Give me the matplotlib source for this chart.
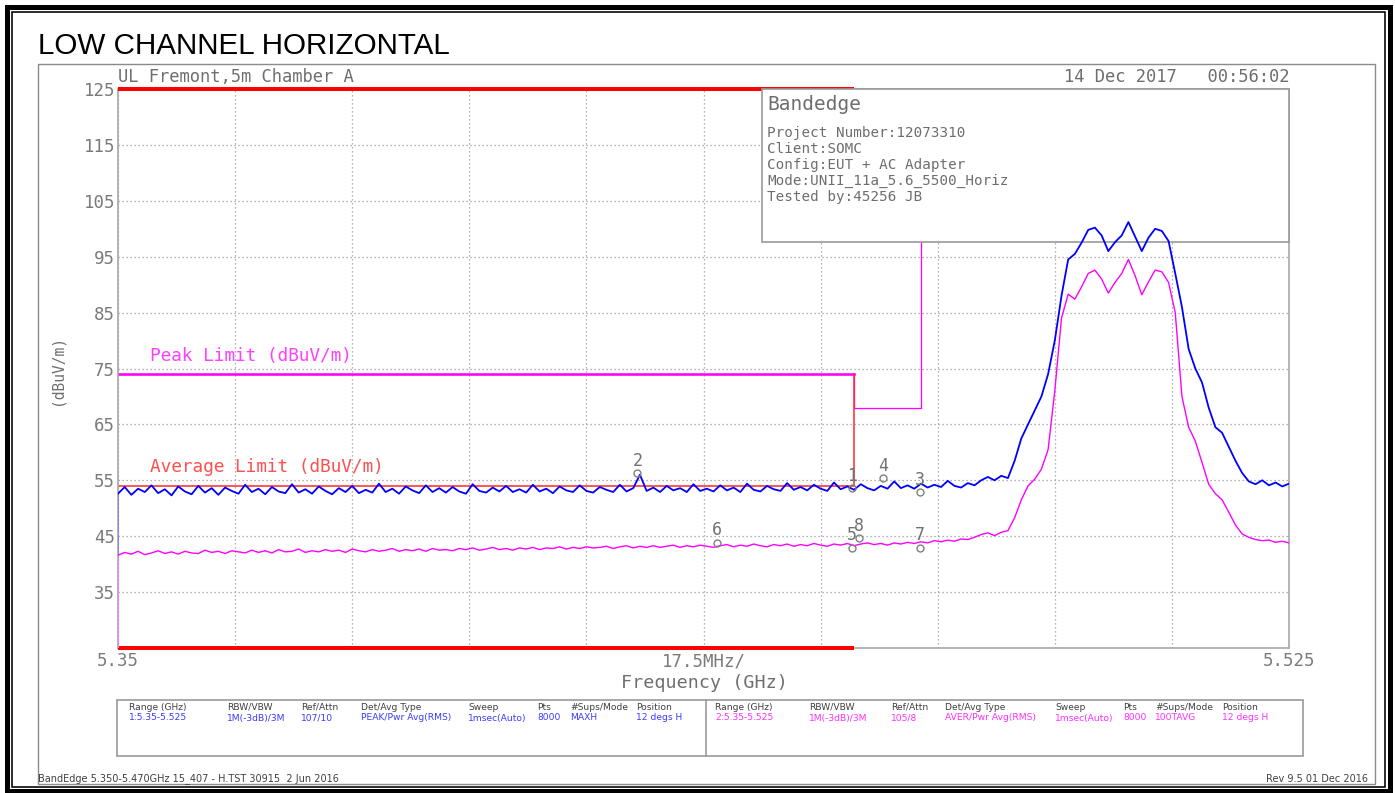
import numpy as np
import matplotlib
matplotlib.use("Agg")
import matplotlib.pyplot as plt
from matplotlib.patches import Rectangle
from matplotlib.lines import Line2D

# ---------------- data ----------------
f_start, f_stop = 5.35, 5.525          # GHz
freq = np.linspace(f_start, f_stop, 176)  # sweep points (1 MHz step)

peak_trace = [  # dBuV/m, MAXH (blue)
    52.6, 53.8, 52.4, 53.5, 52.9, 54.1, 52.7, 53.4, 52.3, 53.9,
    53.0, 52.5, 54.0, 52.8, 53.6, 52.4, 53.7, 53.1, 52.6, 54.2,
    52.9, 53.5, 52.5, 53.8, 53.0, 52.7, 54.3, 52.8, 53.4, 52.6,
    53.9, 53.1, 52.5, 53.6, 52.9, 54.0, 52.7, 53.3, 52.8, 54.4,
    52.9, 53.5, 52.6, 53.9, 53.2, 52.7, 54.1, 52.9, 53.6, 52.8,
    53.8, 53.0, 52.6, 54.3, 53.1, 52.8, 53.7, 53.0, 54.0, 52.9,
    53.4, 52.8, 54.2, 53.0, 53.5, 52.7, 53.9, 53.2, 52.9, 54.1,
    53.1, 52.8, 53.8, 53.3, 52.9, 54.2, 53.0, 53.6, 56.0, 53.1,
    53.7, 52.9, 54.0, 53.2, 53.6, 52.9, 54.3, 53.1, 53.5, 53.0,
    54.1, 53.2, 53.7, 52.9, 54.4, 53.3, 53.0, 54.0, 53.4, 53.1,
    54.5, 53.3, 53.8, 53.2, 54.2, 53.5, 53.1, 54.6, 53.4, 53.9,
    53.3, 54.3, 53.6, 53.2, 54.0, 53.5, 54.8, 53.6, 54.1, 53.5,
    54.4, 53.7, 54.2, 53.8, 54.9, 54.0, 53.7, 54.5, 54.1, 55.0,
    55.6, 55.0, 55.8, 55.4, 58.5, 62.5, 65.0, 67.5, 70.0, 74.0,
    80.0, 88.0, 94.5, 95.5, 97.5, 99.8, 100.2, 98.8, 96.0, 97.6,
    98.8, 101.2, 98.6, 96.0, 98.4, 100.0, 99.6, 97.8, 92.0, 86.0,
    78.5, 75.0, 72.5, 68.0, 64.5, 63.5, 61.0, 58.5, 56.3, 54.8,
    54.3, 55.0, 54.1, 54.6, 53.9, 54.4,
]

avg_trace = [  # dBuV/m, 100TAVG (magenta)
    41.6, 42.1, 41.8, 42.3, 41.7, 42.0, 42.4, 41.9, 42.2, 41.8,
    42.3, 42.0, 41.9, 42.5, 42.1, 42.3, 41.9, 42.4, 42.2, 42.0,
    42.5, 42.1, 42.4, 42.0, 42.6, 42.2, 42.3, 42.7, 42.1, 42.4,
    42.2, 42.6, 42.3, 42.5, 42.1, 42.7, 42.4, 42.2, 42.6, 42.3,
    42.5, 42.8, 42.3, 42.6, 42.4, 42.7, 42.3, 42.8, 42.5, 42.6,
    42.4, 42.8, 42.6, 42.9, 42.5, 42.7, 43.0, 42.6, 42.8, 42.5,
    42.9, 42.7, 43.0, 42.6, 42.9, 42.8, 43.1, 42.7, 43.0, 42.8,
    43.1, 42.9, 43.0, 43.2, 42.8, 43.1, 43.3, 42.9, 43.2, 43.0,
    43.3, 43.0, 43.2, 43.4, 43.0, 43.3, 43.1, 43.4, 43.2, 43.0,
    43.3, 43.5, 43.1, 43.4, 43.2, 43.6, 43.3, 43.1, 43.5, 43.3,
    43.6, 43.2, 43.5, 43.3, 43.7, 43.4, 43.2, 43.6, 43.4, 43.7,
    43.3, 43.6, 43.8, 43.5, 43.7, 43.4, 43.8, 43.6, 43.9, 43.7,
    44.0, 43.8, 44.2, 44.0, 44.3, 44.1, 44.5, 44.4,
    44.8, 45.3, 45.6, 45.1, 45.7, 46.0, 48.3, 51.5, 54.0, 55.2,
    57.0, 60.5, 71.0, 84.0, 88.3, 87.4, 89.6, 92.0, 92.6, 91.0,
    88.5, 90.4, 92.0, 94.5, 91.6, 88.2, 90.5, 92.6, 92.3, 90.4,
    85.0, 70.0, 64.5, 62.0, 58.2, 54.3, 52.6, 51.5, 49.3, 47.0,
    45.4, 44.8, 44.4, 44.2, 44.3, 43.9, 44.1, 43.8,
]

restricted_band = [5.35, 5.46]
avg_limit_freq = [5.35, 5.46, 5.46]
avg_limit_val = [54, 54, 74]
peak_limit_freq = [5.35, 5.46]
peak_limit_val = [74, 74]
peak_limit2_freq = [5.46, 5.46, 5.47, 5.47]
peak_limit2_val = [74, 68, 68, 125]

marker_ids = ["1", "2", "3", "4", "5", "6", "7", "8"]
marker_freq = [5.4597, 5.4276, 5.4699, 5.4643, 5.4597, 5.4395, 5.4699, 5.4608]
marker_level = [53.6, 56.3, 52.9, 55.4, 42.9, 43.8, 42.9, 44.6]

y_ticks = [35, 45, 55, 65, 75, 85, 95, 105, 115, 125]
x_tick_labels = ["5.35", "17.5MHz/", "5.525"]

table_headers = ["Range (GHz)", "RBW/VBW", "Ref/Attn", "Det/Avg Type", "Sweep", "Pts", "#Sups/Mode", "Position"]
table_row1 = ["1:5.35-5.525", "1M(-3dB)/3M", "107/10", "PEAK/Pwr Avg(RMS)", "1msec(Auto)", "8000", "MAXH", "12 degs H"]
table_row2 = ["2:5.35-5.525", "1M(-3dB)/3M", "105/8", "AVER/Pwr Avg(RMS)", "1msec(Auto)", "8000", "100TAVG", "12 degs H"]

info_title = "Bandedge"
info_lines = ["Project Number:12073310", "Client:SOMC", "Config:EUT + AC Adapter",
              "Mode:UNII_11a_5.6_5500_Horiz", "Tested by:45256 JB"]

# ---------------- layout helpers ----------------
W, H = 1395, 793
fig = plt.figure(figsize=(W / 100, H / 100), dpi=100)
fig.patch.set_facecolor("white")

def fx(x):
    return x / W

def fy(y):
    return 1 - y / H

def frect(x0, y0, x1, y1, **kw):
    r = Rectangle((fx(x0), fy(y1)), fx(x1) - fx(x0), fy(y0) - fy(y1),
                  transform=fig.transFigure, **kw)
    fig.add_artist(r)
    return r

MONO = "DejaVu Sans Mono"
GRAY = "#6e6e6e"
TICKGRAY = "#7a7a7a"

# outer black borders
frect(6.5, 6.5, 1389.5, 790.5, fill=False, edgecolor="black", linewidth=5 * 0.72)
frect(11.5, 11.5, 1384.5, 786.5, fill=False, edgecolor="black", linewidth=1.6 * 0.72)
# gray frame
frect(38, 64, 1375, 784, fill=False, edgecolor="#8a8a8a", linewidth=1.0)

fig.text(fx(38), fy(46), "LOW CHANNEL HORIZONTAL", family="Liberation Sans",
         fontsize=21.3, color="black", ha="left", va="center")

# ---------------- axes ----------------
ax = fig.add_axes([fx(118), fy(648), fx(1289) - fx(118), fy(89) - fy(648)])
ax.set_xlim(f_start, f_stop)
ax.set_ylim(25, 125)
for s in ax.spines.values():
    s.set_color("#a8a8a8")
    s.set_linewidth(1.2)

grid_x = np.linspace(f_start, f_stop, 11)
ax.set_xticks(grid_x)
xl = [""] * 11
xl[0], xl[5], xl[10] = x_tick_labels
ax.set_xticklabels(xl, family=MONO, fontsize=12.5, color=TICKGRAY)
ax.set_yticks([25] + y_ticks)
ax.set_yticklabels([""] + [str(v) for v in y_ticks], family=MONO, fontsize=12.5, color=TICKGRAY)
ax.tick_params(axis="both", length=0)
ax.tick_params(axis="y", pad=2)
ax.tick_params(axis="x", pad=3)
ax.grid(True, linestyle=(0, (1, 2.2)), color="#9a9a9a", linewidth=0.9)
ax.set_axisbelow(True)

# limit lines (below the info box)
ax.hlines([125, 25], restricted_band[0], restricted_band[1], color="#ff0000",
          linewidth=4 * 0.72, clip_on=False, zorder=2.6)
ax.plot(peak_limit_freq, peak_limit_val, color="#ff00ff", linewidth=2.6 * 0.72, zorder=2.5)
ax.plot(peak_limit2_freq, peak_limit2_val, color="#ff00ff", linewidth=1.3 * 0.72, zorder=2.5)
ax.plot(avg_limit_freq, avg_limit_val, color="#ff3030", linewidth=1.6 * 0.72, zorder=2.5)

# info box (covers grid and limit lines, traces drawn above it)
box = Rectangle((644 / 1171, (648 - 242) / 559), 527 / 1171, 1 - (648 - 242) / 559,
                transform=ax.transAxes, facecolor="white", edgecolor="#9a9a9a",
                linewidth=1.2, zorder=3, clip_on=False)
ax.add_patch(box)

# traces
ax.vlines(freq[0], 25, peak_trace[0], color="#8080ff", linewidth=1.2, zorder=4)
ax.plot(freq, peak_trace, color="#0000ff", linewidth=1.3, zorder=4)
ax.vlines(freq[0], 25, avg_trace[0], color="#ff80ff", linewidth=1.2, zorder=4.1)
ax.plot(freq, avg_trace, color="#ff00ff", linewidth=1.0, zorder=4.1)

# markers
ax.plot(marker_freq, marker_level, linestyle="none", marker="o", markersize=5,
        markerfacecolor="none", markeredgecolor="#808080", markeredgewidth=1.0, zorder=6)
for mid, mf, ml in zip(marker_ids, marker_freq, marker_level):
    ax.annotate(mid, (mf, ml), xytext=(0, 9), textcoords="offset points",
                ha="center", va="center", family=MONO, fontsize=12,
                color="#707070", zorder=6)

fig.text(fx(767), fy(105), info_title, family=MONO, fontsize=14, color=GRAY,
         ha="left", va="center", zorder=11)
for k, line in enumerate(info_lines):
    fig.text(fx(767), fy(133 + 16 * k), line, family=MONO, fontsize=10.3, color=GRAY,
             ha="left", va="center", zorder=11)

# header texts
fig.text(fx(118), fy(77), "UL Fremont,5m Chamber A", family=MONO, fontsize=12.3,
         color=GRAY, ha="left", va="center")
fig.text(fx(1289), fy(77), "14 Dec 2017   00:56:02", family=MONO, fontsize=12.3,
         color=GRAY, ha="right", va="center")

# legend labels
fig.text(fx(150), fy(356), "Peak Limit (dBuV/m)", family=MONO, fontsize=12.8,
         color="#ff40ff", ha="left", va="center")
fig.text(fx(150), fy(467), "Average Limit (dBuV/m)", family=MONO, fontsize=12.8,
         color="#ff5050", ha="left", va="center")

# axis labels
fig.text(fx(704), fy(683), "Frequency (GHz)", family=MONO, fontsize=13.2,
         color=GRAY, ha="center", va="center")
fig.text(fx(57), fy(370), "(dBuV/m)", family=MONO, fontsize=10.5, color=GRAY,
         ha="center", va="center", rotation=90)

# bottom table
frect(117, 700, 1303, 756, fill=False, edgecolor="#9a9a9a", linewidth=1.2)
fig.add_artist(Line2D([fx(706), fx(706)], [fy(700), fy(756)], transform=fig.transFigure,
                      color="#9a9a9a", linewidth=1.2))
cols1 = [129, 227, 301, 361, 468, 537, 570, 636]
cols2 = [715, 809, 891, 945, 1055, 1123, 1155, 1222]
TFONT = dict(family="DejaVu Sans", fontsize=6.6, ha="left", va="center")
for cx, h_, v_ in zip(cols1, table_headers, table_row1):
    fig.text(fx(cx), fy(707), h_, color="#404040", **TFONT)
    fig.text(fx(cx), fy(718), v_, color="#3a3aff", **TFONT)
for cx, h_, v_ in zip(cols2, table_headers, table_row2):
    fig.text(fx(cx), fy(707), h_, color="#404040", **TFONT)
    fig.text(fx(cx), fy(718), v_, color="#ff30ff", **TFONT)

# footer
fig.text(fx(38), fy(779), "BandEdge 5.350-5.470GHz 15_407 - H.TST 30915  2 Jun 2016",
         family="DejaVu Sans", fontsize=7, color="#404040", ha="left", va="center")
fig.text(fx(1368), fy(779), "Rev 9.5 01 Dec 2016", family="DejaVu Sans", fontsize=7,
         color="#404040", ha="right", va="center")

fig.savefig("out.png", dpi=100)
